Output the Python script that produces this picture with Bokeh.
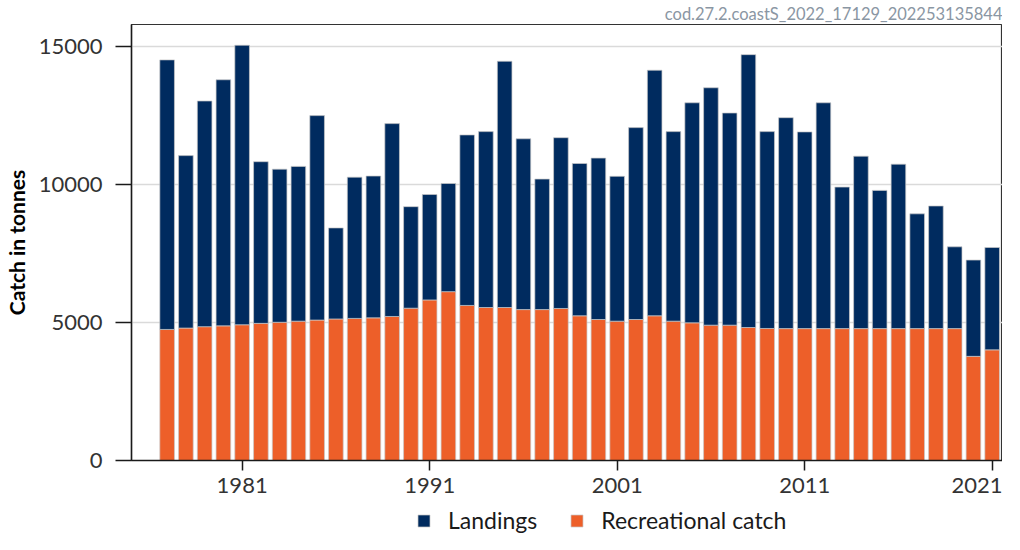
from bokeh.plotting import figure
from bokeh.layouts import column
from bokeh.models import Range1d, FixedTicker, Legend, LegendItem, Title, ColumnDataSource
from bokeh.embed import file_html
from bokeh.resources import INLINE

years = list(range(1977, 2022))
landings = [9770, 6250, 8180, 8920, 10130, 5860, 5550, 5610, 7410, 3300,
            5120, 5140, 6990, 3680, 3820, 3920, 6180, 6375, 8925, 6190,
            4730, 6190, 5520, 5850, 5250, 6955, 8900, 6870, 7975, 8605,
            7690, 9890, 7135, 7645, 7130, 8185, 5130, 6250, 5010, 5960,
            4160, 4445, 2965, 3490, 3710]
recreational = [4750, 4800, 4850, 4880, 4920, 4970, 5010, 5050, 5090, 5130,
                5150, 5170, 5220, 5520, 5820, 6120, 5620, 5545, 5545, 5470,
                5470, 5510, 5245, 5110, 5050, 5110, 5245, 5050, 4990, 4905,
                4905, 4820, 4785, 4780, 4780, 4780, 4780, 4780, 4780, 4780,
                4780, 4780, 4780, 3775, 4010]
x_ticks = [1981, 1991, 2001, 2011, 2021]
y_ticks = [0, 5000, 10000, 15000]
series_labels = ["Landings", "Recreational catch"]
series_colors = ["#002B5F", "#ED5F29"]
caption = "cod.27.2.coastS_2022_17129_202253135844"
y_title = "Catch in tonnes"

FONT = "Lato"
BAR_W = 0.78
EDGE = "#c8c8c8"
LEFT = 130

source = ColumnDataSource(dict(year=years, land=landings, rec=recreational))
totals = [a + b for a, b in zip(landings, recreational)]

p = figure(width=1002, height=506, output_backend="svg", toolbar_location=None,
           x_range=Range1d(1975.1, 2021.55), y_range=Range1d(0, max(totals) * 1.05),
           min_border_left=LEFT, min_border_right=0, min_border_top=23, min_border_bottom=46)

rs = p.vbar_stack(["rec", "land"], x="year", width=BAR_W, source=source,
                  fill_color=[series_colors[1], series_colors[0]],
                  line_color=EDGE, line_width=0.7)

p.background_fill_color = "white"
p.border_fill_color = "white"
p.outline_line_color = "#333333"
p.outline_line_width = 1.2

p.xgrid.visible = False
p.ygrid.grid_line_color = "#dadada"
p.ygrid.grid_line_width = 1.5
p.ygrid.ticker = FixedTicker(ticks=y_ticks)

for ax in (p.xaxis[0], p.yaxis[0]):
    ax.axis_line_color = "#1a1a1a"
    ax.axis_line_width = 1.5
    ax.major_tick_line_color = "#1a1a1a"
    ax.major_tick_line_width = 1.5
    ax.minor_tick_line_color = None
    ax.major_tick_in = 0
    ax.major_label_text_font = FONT
    ax.major_label_text_font_size = "22px"
    ax.major_label_text_color = "#333333"

p.xaxis.ticker = FixedTicker(ticks=x_ticks)
p.xaxis.major_tick_out = 10
p.xaxis.major_label_standoff = 7

p.yaxis.ticker = FixedTicker(ticks=y_ticks)
p.yaxis.major_tick_out = 16
p.yaxis.major_label_standoff = 13
p.yaxis.axis_label = y_title
p.yaxis.axis_label_text_font = FONT
p.yaxis.axis_label_text_font_style = "bold"
p.yaxis.axis_label_text_font_size = "21px"
p.yaxis.axis_label_text_color = "black"
p.yaxis.axis_label_standoff = 7

title = Title(text=caption, align="right", text_font=FONT, text_font_size="16.5px",
              text_font_style="normal", text_color="#8a96a3", standoff=2, offset=0)
p.add_layout(title, "above")

# legend strip below the chart (its bars lie outside its view, only the legend shows)
lf = figure(width=1002, height=28, output_backend="svg", toolbar_location=None,
            x_axis_type=None, y_axis_type=None, x_range=Range1d(0, 1), y_range=Range1d(0, 1),
            min_border_left=LEFT, min_border_right=0, min_border_top=0, min_border_bottom=0,
            outline_line_color=None)
lf.xgrid.visible = False
lf.ygrid.visible = False
lrs = lf.vbar_stack(["rec", "land"], x="year", width=BAR_W, source=source,
                    fill_color=[series_colors[1], series_colors[0]],
                    line_color=EDGE, line_width=0.7)
legend = Legend(items=[LegendItem(label=series_labels[0], renderers=[lrs[1]]),
                       LegendItem(label=series_labels[1], renderers=[lrs[0]])],
                orientation="horizontal", location=(285, 0),
                label_text_font=FONT, label_text_font_size="23px",
                label_text_color="#1a1a1a",
                glyph_width=15, glyph_height=15, label_standoff=17, spacing=32,
                padding=0, margin=0, border_line_color=None,
                background_fill_alpha=0)
lf.add_layout(legend, "center")

layout = column(p, lf, spacing=0)
open("out.html", "w").write(file_html(layout, INLINE))
